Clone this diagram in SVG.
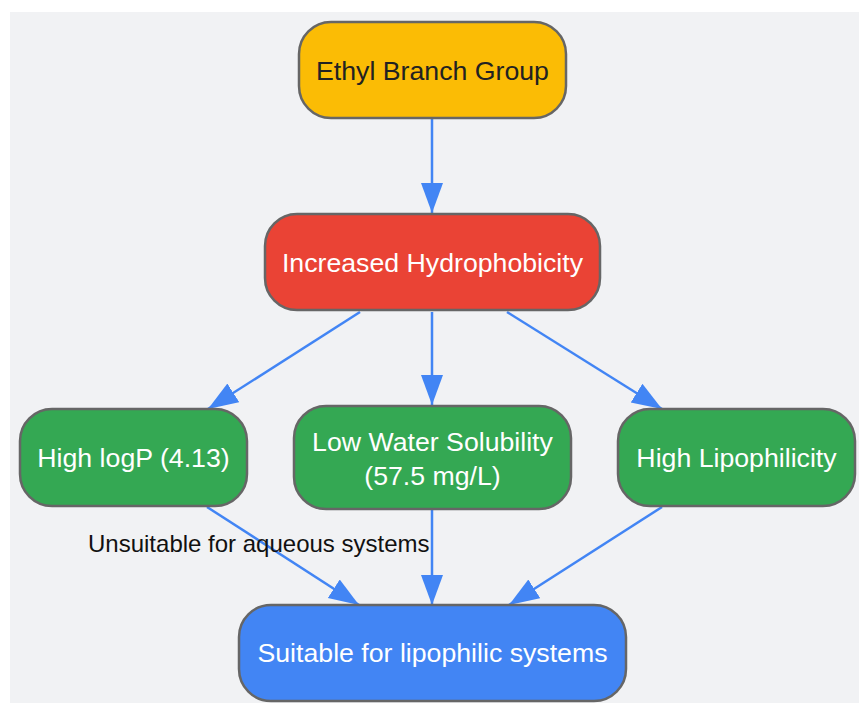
<svg xmlns="http://www.w3.org/2000/svg" width="859" height="703" viewBox="0 0 859 703">
<defs>
<style>
.node rect{stroke:#666;stroke-width:2.5}
.node text{font-family:"Liberation Sans",Arial,sans-serif;font-size:26.7px;text-anchor:middle;fill:#fff}
.edge{stroke:#4285f4;stroke-width:2.5;fill:none;marker-end:url(#arr)}
.lbl{font-family:"Liberation Sans",Arial,sans-serif;font-size:24px;fill:#111}
</style>
<marker id="arr" markerUnits="userSpaceOnUse" markerWidth="32" markerHeight="24" refX="30" refY="11" orient="auto">
<path d="M0,0 L30,11 L0,22 Z" fill="#4285f4"/>
</marker>
</defs>
<rect x="0" y="0" width="859" height="703" fill="#fff"/>
<rect x="10" y="12" width="849" height="691" fill="#f1f2f4"/>
<g id="connectors">
<path class="edge" d="M432,119 L432,213"/>
<path class="edge" d="M360,312 L208,409"/>
<path class="edge" d="M432,312 L432,405"/>
<path class="edge" d="M507,312 L662,409"/>
<path class="edge" d="M207,507 L359,605"/>
<path class="edge" d="M432,510 L432,605"/>
<path class="edge" d="M662,507 L509,605"/>
<text class="lbl" x="88" y="552">Unsuitable for aqueous systems</text>
</g>
<g id="ethyl" class="node">
<rect x="299" y="22" width="267" height="96" rx="32" fill="#fbbc05"/>
<text x="432.5" y="80" style="fill:#222">Ethyl Branch Group</text>
</g>
<g id="hydro" class="node">
<rect x="265" y="214" width="335" height="96" rx="32" fill="#ea4335"/>
<text x="432.5" y="272">Increased Hydrophobicity</text>
</g>
<g id="logp" class="node">
<rect x="20" y="409" width="227" height="97" rx="32" fill="#34a853"/>
<text x="133.5" y="467">High logP (4.13)</text>
</g>
<g id="solub" class="node">
<rect x="294" y="406" width="277" height="103" rx="32" fill="#34a853"/>
<text x="432.5" y="451">Low Water Solubility</text>
<text x="432.5" y="485">(57.5 mg/L)</text>
</g>
<g id="lipo" class="node">
<rect x="618" y="409" width="237" height="97" rx="32" fill="#34a853"/>
<text x="736.5" y="467">High Lipophilicity</text>
</g>
<g id="suitable" class="node">
<rect x="239" y="605" width="387" height="96" rx="32" fill="#4285f4"/>
<text x="432.5" y="662">Suitable for lipophilic systems</text>
</g>
</svg>
